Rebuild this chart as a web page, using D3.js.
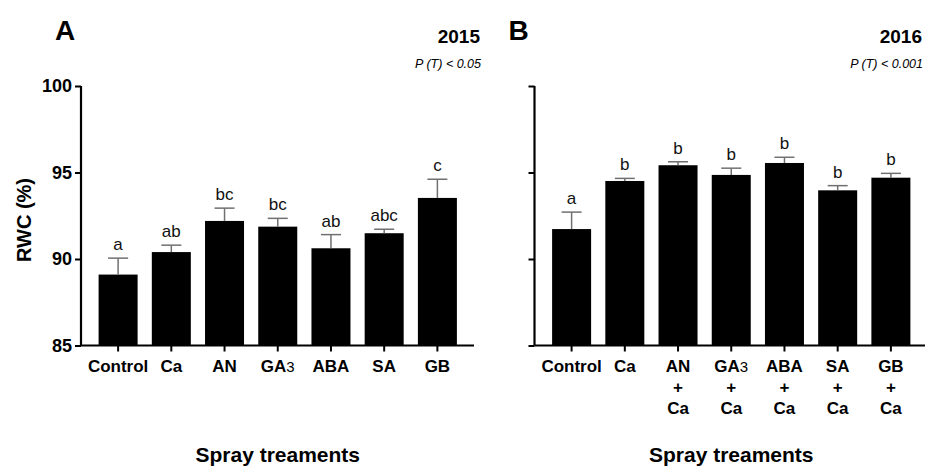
<!DOCTYPE html>
<html>
<head>
<meta charset="utf-8">
<script src="https://cdn.jsdelivr.net/npm/d3@7/dist/d3.min.js"></script>
<style>
  html, body { margin: 0; padding: 0; background: #fff; }
  svg { display: block; font-family: "Liberation Sans", Arial, sans-serif; }
</style>
</head>
<body>
<svg id="chart" width="925" height="466"></svg>
<script>
// ---- data ----
const categoriesA = ["Control", "Ca", "AN", "GA3", "ABA", "SA", "GB"];
const valuesA = [89.1, 90.4, 92.2, 91.87, 90.62, 91.49, 93.53];
const errorsA = [0.95, 0.4, 0.74, 0.48, 0.79, 0.23, 1.08];
const lettersA = ["a", "ab", "bc", "bc", "ab", "abc", "c"];

const categoriesB = ["Control", "Ca", "AN + Ca", "GA3 + Ca", "ABA + Ca", "SA + Ca", "GB + Ca"];
const valuesB = [91.73, 94.51, 95.42, 94.86, 95.55, 93.97, 94.7];
const errorsB = [0.98, 0.15, 0.2, 0.39, 0.33, 0.27, 0.25];
const lettersB = ["a", "b", "b", "b", "b", "b", "b"];

const yTicks = [85, 90, 95, 100];
const yDomain = [85, 100];
const panelLabels = ["A", "B"];
const years = ["2015", "2016"];
const pValues = ["P (T) < 0.05", "P (T) < 0.001"];
const xTitle = "Spray treaments";
const yTitle = "RWC (%)";

const svg = d3.select("#chart");
const yTop = 86, yBottom = 345.5;

function panel(axisX, cats, vals, errs, letters, idx, showYLabels, rightEdge) {
  const g = svg.append("g");
  const y = d3.scaleLinear().domain(yDomain).range([yBottom, yTop]);
  const x = d3.scaleBand().domain(cats).range([axisX + 10.5, axisX + 383])
    .paddingInner(0.267).paddingOuter(0.1335);

  const data = cats.map((c, i) => ({ c, v: vals[i], e: errs[i], l: letters[i] }));

  // bars
  g.selectAll("rect.bar").data(data).join("rect")
    .attr("class", "bar")
    .attr("x", d => x(d.c))
    .attr("width", x.bandwidth())
    .attr("y", d => y(d.v))
    .attr("height", d => y(yDomain[0]) - y(d.v))
    .attr("fill", "#000");

  // error bars (upward only)
  const cw = 10;
  g.selectAll("line.stem").data(data).join("line")
    .attr("x1", d => x(d.c) + x.bandwidth() / 2)
    .attr("x2", d => x(d.c) + x.bandwidth() / 2)
    .attr("y1", d => y(d.v))
    .attr("y2", d => y(d.v + d.e))
    .attr("stroke", "#707070").attr("stroke-width", 1.5);
  g.selectAll("line.cap").data(data).join("line")
    .attr("x1", d => x(d.c) + x.bandwidth() / 2 - cw)
    .attr("x2", d => x(d.c) + x.bandwidth() / 2 + cw)
    .attr("y1", d => y(d.v + d.e))
    .attr("y2", d => y(d.v + d.e))
    .attr("stroke", "#707070").attr("stroke-width", 1.5);

  // significance letters
  g.selectAll("text.sig").data(data).join("text")
    .attr("x", d => x(d.c) + x.bandwidth() / 2)
    .attr("y", d => y(d.v + d.e) - 8)
    .attr("text-anchor", "middle")
    .attr("font-size", 17)
    .attr("fill", "#111")
    .text(d => d.l);

  // y axis
  const yAxis = d3.axisLeft(y).tickValues(yTicks).tickSize(6).tickPadding(3)
    .tickFormat(showYLabels ? d3.format("d") : () => "");
  const ya = g.append("g").attr("transform", `translate(${axisX},0)`).call(yAxis);
  ya.select(".domain").attr("stroke-width", 2.2).attr("d", `M-0,${yTop}H0V${yBottom}`);
  ya.selectAll(".tick line").attr("stroke-width", 2);
  ya.selectAll(".tick text").attr("font-size", 18).attr("font-weight", "bold")
    .attr("font-family", "'Liberation Sans', Arial, sans-serif").attr("fill", "#000");

  // x axis
  const xAxis = d3.axisBottom(x).tickSize(6).tickFormat(() => "");
  const xa = g.append("g").attr("transform", `translate(0,${yBottom})`).call(xAxis);
  xa.select(".domain").attr("stroke-width", 2.2).attr("d", `M${axisX},0H${axisX + 393}`);
  xa.selectAll(".tick line").attr("stroke-width", 2);

  // x tick labels (multi-line, GA3 subscript-like)
  data.forEach(d => {
    const parts = d.c.split(" ");
    const lines = parts.length > 1 ? [parts[0], parts[1], parts[2]] : [parts[0]];
    const cx = x(d.c) + x.bandwidth() / 2;
    lines.forEach((ln, k) => {
      const t = g.append("text")
        .attr("x", cx).attr("y", 372 + k * 20.8)
        .attr("text-anchor", "middle")
        .attr("font-size", 17).attr("font-weight", "bold").attr("fill", "#000");
      if (ln === "GA3") {
        t.append("tspan").text("GA");
        t.append("tspan").attr("font-weight", "normal").attr("font-size", 15).text("3");
      } else {
        t.text(ln);
      }
    });
  });

  // x title
  const [r0, r1] = x.range();
  g.append("text").attr("x", (r0 + r1) / 2).attr("y", 462)
    .attr("text-anchor", "middle").attr("font-size", 21).attr("font-weight", "bold")
    .text(xTitle);

  // panel label, year, p-value
  g.append("text").attr("x", axisX - 26).attr("y", 40)
    .attr("font-size", 28).attr("font-weight", "bold").text(panelLabels[idx]);
  g.append("text").attr("x", rightEdge).attr("y", 43).attr("text-anchor", "end")
    .attr("font-size", 19).attr("font-weight", "bold").text(years[idx]);
  g.append("text").attr("x", rightEdge + 1).attr("y", 68).attr("text-anchor", "end")
    .attr("font-size", 12.5).attr("font-style", "italic").text(pValues[idx]);
}

panel(81, categoriesA, valuesA, errorsA, lettersA, 0, true, 480);
panel(534.5, categoriesB, valuesB, errorsB, lettersB, 1, false, 922);

// y title
svg.append("text")
  .attr("transform", "translate(31,220) rotate(-90)")
  .attr("text-anchor", "middle")
  .attr("font-size", 20).attr("font-weight", "bold")
  .text(yTitle);
</script>
</body>
</html>
